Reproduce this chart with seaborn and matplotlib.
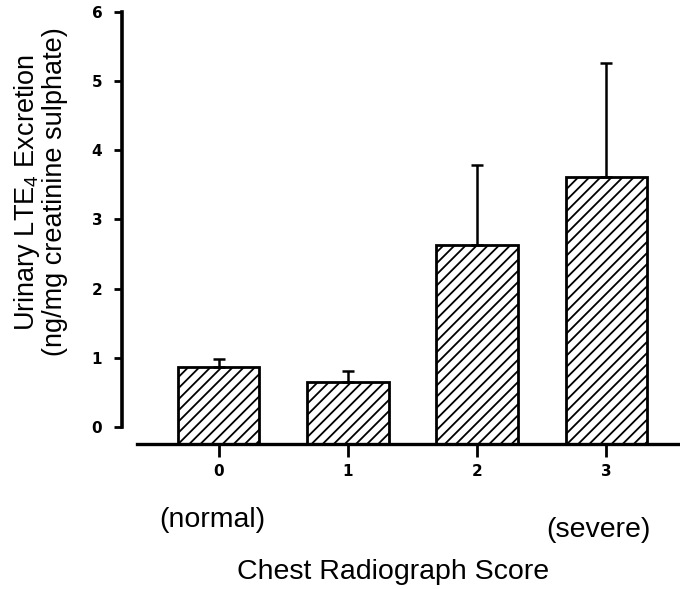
import matplotlib
matplotlib.use("Agg")
import matplotlib.pyplot as plt
import seaborn as sns
import pandas as pd

scores = ["0", "1", "2", "3"]
means = [0.87, 0.65, 2.63, 3.61]
errors = [0.11, 0.16, 1.16, 1.65]
yticks = [0, 1, 2, 3, 4, 5, 6]

sns.set_style("white")
plt.rcParams["font.family"] = ["Liberation Sans", "DejaVu Sans"]
plt.rcParams["mathtext.default"] = "regular"
plt.rcParams["hatch.linewidth"] = 1.3
plt.rcParams["text.color"] = "black"
plt.rcParams["axes.labelcolor"] = "black"
plt.rcParams["xtick.color"] = "black"
plt.rcParams["ytick.color"] = "black"
plt.rcParams["axes.edgecolor"] = "black"

W, H = 680, 589
fig = plt.figure(figsize=(6.8, 5.89), dpi=100)
ax = fig.add_axes([0.179, 0.246, 0.821, 0.734])

df = pd.DataFrame({"score": scores, "mean": means})
sns.barplot(data=df, x="score", y="mean", ax=ax, color="white",
            edgecolor="black", linewidth=2, width=0.63, hatch="///",
            errorbar=None)

ybot = -0.246
for p in ax.patches:
    h = p.get_height()
    p.set_y(ybot)
    p.set_height(h - ybot)

ax.errorbar(range(len(scores)), means, yerr=[[0]*len(errors), errors],
            fmt="none", ecolor="black", elinewidth=1.8, capsize=4.5,
            capthick=1.8)

ax.set_ylim(ybot, 6)
ax.set_xlim(-0.75, 3.57)
ax.set_yticks(yticks)
ax.set_yticklabels([str(t) for t in yticks], fontsize=11, fontweight="bold",
                   family="DejaVu Sans", color="black")
ax.set_xticks(range(len(scores)))
ax.set_xticklabels(scores, fontsize=11, fontweight="bold", family="DejaVu Sans",
                   color="black")

for s in ["top", "right"]:
    ax.spines[s].set_visible(False)
ax.spines["left"].set_bounds(0, 6)
ax.spines["left"].set_linewidth(2.6)
ax.spines["left"].set_color("black")
ax.spines["bottom"].set_bounds(-0.63, 3.57)
ax.spines["bottom"].set_linewidth(2.4)
ax.spines["bottom"].set_color("black")
ax.tick_params(axis="y", direction="out", length=6, width=2, pad=8, left=True,
               color="black")
ax.tick_params(axis="x", direction="out", length=9, width=2, pad=5, bottom=True,
               color="black")

ax.set_xlabel("")
ax.set_ylabel("")

fig.text(40 / W, 1 - 192 / H,
         "Urinary LTE$_4$ Excretion\n(ng/mg creatinine sulphate)",
         fontsize=19.5, rotation=90, ha="center", va="center",
         multialignment="center", linespacing=1.0, color="black")

fig.text(212 / W, 1 - 520 / H, "(normal)", fontsize=20.5, ha="center",
         va="center", color="black")
fig.text(598 / W, 1 - 530 / H, "(severe)", fontsize=20.5, ha="center",
         va="center", color="black")
fig.text(393 / W, 1 - 572 / H, "Chest Radiograph Score", fontsize=20.5,
         ha="center", va="center", color="black")

fig.savefig("out.png", dpi=100)
